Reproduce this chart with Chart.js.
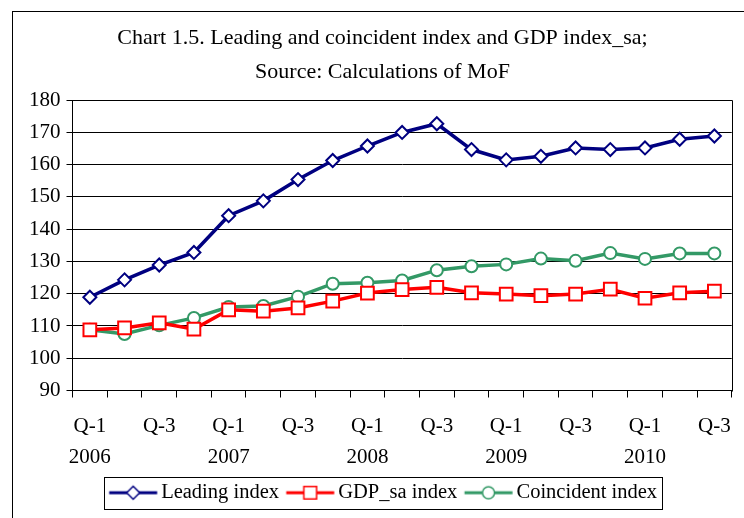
<!DOCTYPE html>
<html>
<head>
<meta charset="utf-8">
<script src="https://cdn.jsdelivr.net/npm/chart.js@4.4.1/dist/chart.umd.min.js"></script>
<style>
    html, body { margin: 0; padding: 0; background: #fff; }
    #wrap { position: relative; width: 744px; height: 518px; overflow: hidden; }
    #frame {
        position: absolute; left: 12px; top: 11px; width: 800px; height: 600px;
        border-left: 1px solid #000; border-top: 1px solid #000;
    }
    #myChart { position: absolute; left: 0; top: 0; }
</style>
</head>
<body>
<div id="wrap">
    <div id="frame"></div>
    <canvas id="myChart" width="744" height="518"></canvas>
</div>
<script>
const quarters = ["Q-1", "Q-2", "Q-3", "Q-4", "Q-1", "Q-2", "Q-3", "Q-4", "Q-1", "Q-2",
    "Q-3", "Q-4", "Q-1", "Q-2", "Q-3", "Q-4", "Q-1", "Q-2", "Q-3"];
const years = ["2006", "2006", "2006", "2006", "2007", "2007", "2007", "2007", "2008", "2008",
    "2008", "2008", "2009", "2009", "2009", "2009", "2010", "2010", "2010"];

const leadingIndex = [118.9, 124.3, 128.9, 132.8, 144.2, 148.8, 155.4, 161.3, 165.8, 170.0,
    172.7, 164.7, 161.5, 162.6, 165.2, 164.7, 165.2, 167.9, 168.9];
const gdpIndex = [108.8, 109.4, 111.0, 109.0, 115.0, 114.6, 115.6, 117.7, 120.2, 121.3,
    122.0, 120.3, 119.9, 119.4, 119.9, 121.4, 118.6, 120.3, 120.8];
const coincidentIndex = [108.8, 107.5, 110.2, 112.5, 115.9, 116.2, 119.1, 123.1, 123.4, 124.1,
    127.3, 128.5, 129.1, 130.9, 130.2, 132.6, 130.8, 132.5, 132.5];

const yMin = 90;
const yMax = 180;
const yStep = 10;

const FONT = "'Liberation Serif', 'DejaVu Serif', serif";

// legend sample: short line with the marker on it (drawn a bit right of the canvas centre)
function makeSample(color, style, r) {
    const c = document.createElement("canvas");
    c.width = 60;
    c.height = 20;
    const g = c.getContext("2d");
    const cx = 33.75;
    g.strokeStyle = color;
    g.lineWidth = 3;
    g.beginPath();
    g.moveTo(cx - 24, 10);
    g.lineTo(cx + 24, 10);
    g.stroke();
    g.fillStyle = "#fff";
    g.lineWidth = 1.5;
    g.beginPath();
    if (style === "rectRot") {
        g.moveTo(cx, 10 - r); g.lineTo(cx + r, 10); g.lineTo(cx, 10 + r); g.lineTo(cx - r, 10);
        g.closePath();
    } else if (style === "rect") {
        const s = r * Math.SQRT1_2;
        g.rect(cx - s, 10 - s, 2 * s, 2 * s);
    } else {
        g.arc(cx, 10, r, 0, Math.PI * 2);
    }
    g.fill();
    g.stroke();
    return c;
}

const plotFrame = {
    id: "plotFrame",
    afterDatasetsDraw(chart) {
        const a = chart.chartArea;
        const ctx = chart.ctx;
        ctx.save();
        ctx.strokeStyle = "#000";
        ctx.lineWidth = 1;
        ctx.beginPath();
        ctx.moveTo(Math.round(a.left) + 0.5, Math.round(a.top) + 0.5);
        ctx.lineTo(Math.round(a.right) + 0.5, Math.round(a.top) + 0.5);
        ctx.lineTo(Math.round(a.right) + 0.5, Math.round(a.bottom) + 0.5);
        ctx.stroke();
        ctx.restore();
    },
    afterDraw(chart) {
        const boxes = chart.legend.legendHitBoxes;
        if (!boxes || !boxes.length) return;
        let l = Infinity, r = -Infinity, t = Infinity, b = -Infinity;
        boxes.forEach((h) => {
            l = Math.min(l, h.left);
            r = Math.max(r, h.left + h.width);
            t = Math.min(t, h.top);
            b = Math.max(b, h.top + h.height);
        });
        const cy = (t + b) / 2;
        const ctx = chart.ctx;
        ctx.save();
        ctx.strokeStyle = "#000";
        ctx.lineWidth = 1;
        ctx.strokeRect(Math.round(l - 4) + 0.5, Math.round(cy - 16) + 0.5, Math.round(r - l + 9), 32);
        ctx.restore();
    },
};

const data = {
    labels: quarters,
    datasets: [
        {
            label: "Leading index",
            data: leadingIndex,
            borderColor: "#000080",
            backgroundColor: "#ffffff",
            borderWidth: 3.5,
            pointStyle: "rectRot",
            pointRadius: 6.5,
            pointBorderWidth: 2,
            pointBackgroundColor: "#ffffff",
            pointBorderColor: "#000080",
            sample: makeSample("#000080", "rectRot", 6.5),
        },
        {
            label: "GDP_sa index",
            data: gdpIndex,
            borderColor: "#ff0000",
            backgroundColor: "#ffffff",
            borderWidth: 3.5,
            pointStyle: "rect",
            pointRadius: 9,
            pointBorderWidth: 2,
            pointBackgroundColor: "#ffffff",
            pointBorderColor: "#ff0000",
            sample: makeSample("#ff0000", "rect", 9),
        },
        {
            label: "Coincident index",
            data: coincidentIndex,
            borderColor: "#339966",
            backgroundColor: "#ffffff",
            borderWidth: 3.5,
            pointStyle: "circle",
            pointRadius: 6,
            pointBorderWidth: 2,
            pointBackgroundColor: "#ffffff",
            pointBorderColor: "#339966",
            sample: makeSample("#339966", "circle", 6),
        },
    ],
};

const config = {
    type: "line",
    data: data,
    options: {
        responsive: false,
        animation: false,
        layout: {
            padding: { left: 23, right: 2, top: 0, bottom: 5 },
        },
        plugins: {
            title: {
                display: true,
                text: ["Chart 1.5. Leading and coincident index and GDP index_sa;", "Source: Calculations of MoF"],
                color: "#000",
                font: { family: FONT, size: 22, weight: "normal", lineHeight: 1.55 },
                padding: { top: 21, bottom: 11 },
            },
            legend: {
                position: "bottom",
                labels: {
                    color: "#000",
                    font: { family: FONT, size: 20.5 },
                    usePointStyle: true,
                    pointStyleWidth: 43,
                    padding: 6,
                    generateLabels(chart) {
                        return chart.data.datasets.map((ds, i) => ({
                            text: ds.label,
                            pointStyle: ds.sample,
                            fillStyle: ds.borderColor,
                            strokeStyle: ds.borderColor,
                            lineWidth: 0,
                            fontColor: "#000",
                            hidden: false,
                            datasetIndex: i,
                        }));
                    },
                },
            },
            tooltip: { enabled: false },
        },
        scales: {
            x: {
                offset: true,
                grid: {
                    offset: true,
                    drawOnChartArea: false,
                    drawTicks: true,
                    tickLength: 7,
                    color: "#000",
                },
                border: { color: "#000", width: 1 },
                ticks: {
                    autoSkip: false,
                    maxRotation: 0,
                    color: "#000",
                    padding: 13,
                    font: { family: FONT, size: 21, lineHeight: 1.5 },
                    callback(val, i) {
                        if (i % 2 !== 0) return "";
                        return quarters[i] === "Q-1" ? [quarters[i], years[i]] : [quarters[i]];
                    },
                },
                afterFit(scale) {
                    scale.height -= 10;
                },
            },
            y: {
                min: yMin,
                max: yMax,
                grid: {
                    color: "#000",
                    tickLength: 6,
                },
                border: { color: "#000", width: 1 },
                ticks: {
                    stepSize: yStep,
                    color: "#000",
                    padding: 6,
                    font: { family: FONT, size: 21 },
                },
            },
        },
    },
    plugins: [plotFrame],
};

document.addEventListener("DOMContentLoaded", function () {
    const ctx = document.getElementById("myChart").getContext("2d");
    const myChart = new Chart(ctx, config);
});
</script>
</body>
</html>
